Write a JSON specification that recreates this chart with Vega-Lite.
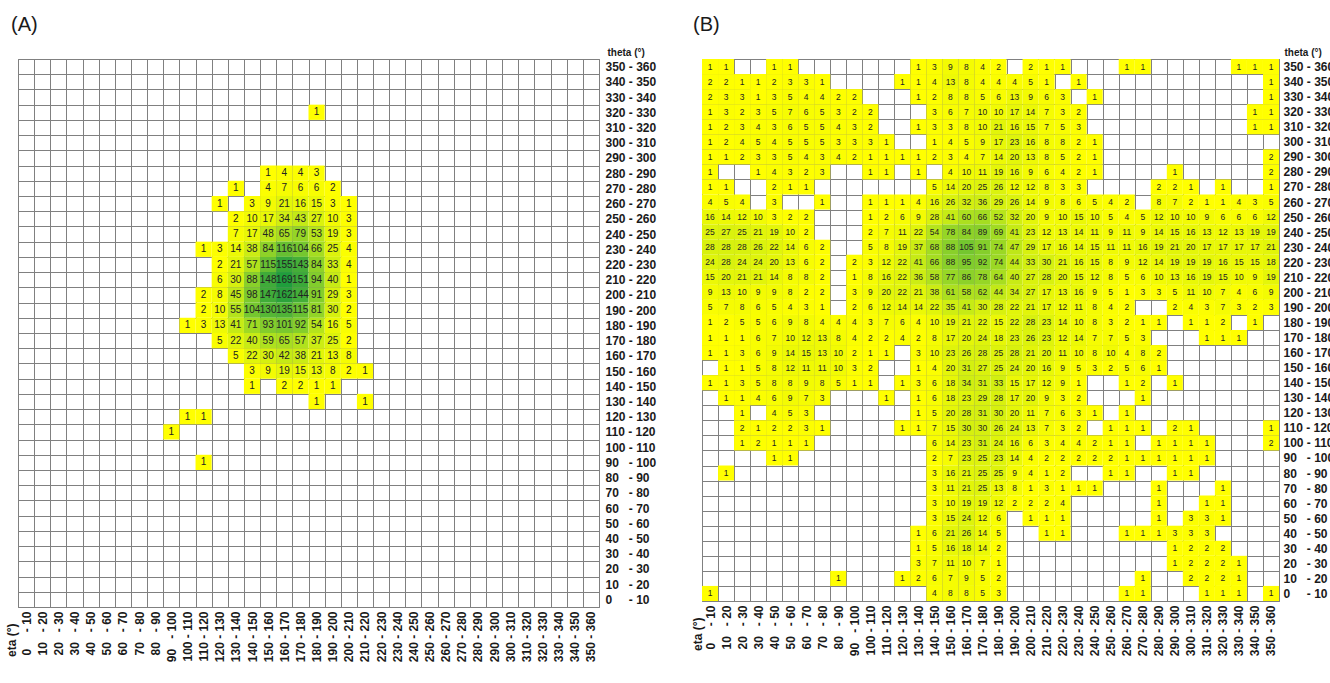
{
  "$schema": "https://vega.github.io/schema/vega-lite/v6.json",
  "background": "white",
  "padding": {"left": 4, "top": 14, "right": 0, "bottom": 0},
  "bounds": "flush",
  "spacing": 103,
  "config": {
    "font": "Liberation Sans",
    "view": {"stroke": "#808080", "strokeWidth": 1},
    "axis": {
      "grid": true, "tickBand": "extent", "gridColor": "#808080", "gridWidth": 1, "gridOpacity": 1,
      "ticks": false, "domain": false, "zindex": 1,
      "labelFont": "Liberation Sans", "labelFontWeight": "bold", "labelFontSize": 12, "labelColor": "#1a1a1a",
      "titleFont": "Liberation Sans", "titleFontWeight": "bold", "titleColor": "#1a1a1a"
    },
    "title": {"font": "Liberation Sans", "fontSize": 20, "fontWeight": "normal", "color": "#1a1a1a", "anchor": "start", "frame": "group", "baseline": "alphabetic"}
  },
  "datasets": {
    "A": [
      {"eta":180,"theta":320,"n":1},
      {"eta":150,"theta":280,"n":1},{"eta":160,"theta":280,"n":4},{"eta":170,"theta":280,"n":4},{"eta":180,"theta":280,"n":3},
      {"eta":130,"theta":270,"n":1},{"eta":150,"theta":270,"n":4},{"eta":160,"theta":270,"n":7},{"eta":170,"theta":270,"n":6},{"eta":180,"theta":270,"n":6},{"eta":190,"theta":270,"n":2},
      {"eta":120,"theta":260,"n":1},{"eta":140,"theta":260,"n":3},{"eta":150,"theta":260,"n":9},{"eta":160,"theta":260,"n":21},{"eta":170,"theta":260,"n":16},{"eta":180,"theta":260,"n":15},{"eta":190,"theta":260,"n":3},{"eta":200,"theta":260,"n":1},
      {"eta":130,"theta":250,"n":2},{"eta":140,"theta":250,"n":10},{"eta":150,"theta":250,"n":17},{"eta":160,"theta":250,"n":34},{"eta":170,"theta":250,"n":43},{"eta":180,"theta":250,"n":27},{"eta":190,"theta":250,"n":10},{"eta":200,"theta":250,"n":3},
      {"eta":130,"theta":240,"n":7},{"eta":140,"theta":240,"n":17},{"eta":150,"theta":240,"n":48},{"eta":160,"theta":240,"n":65},{"eta":170,"theta":240,"n":79},{"eta":180,"theta":240,"n":53},{"eta":190,"theta":240,"n":19},{"eta":200,"theta":240,"n":3},
      {"eta":110,"theta":230,"n":1},{"eta":120,"theta":230,"n":3},{"eta":130,"theta":230,"n":14},{"eta":140,"theta":230,"n":38},{"eta":150,"theta":230,"n":84},{"eta":160,"theta":230,"n":116},{"eta":170,"theta":230,"n":104},{"eta":180,"theta":230,"n":66},{"eta":190,"theta":230,"n":25},{"eta":200,"theta":230,"n":4},
      {"eta":120,"theta":220,"n":2},{"eta":130,"theta":220,"n":21},{"eta":140,"theta":220,"n":57},{"eta":150,"theta":220,"n":115},{"eta":160,"theta":220,"n":155},{"eta":170,"theta":220,"n":143},{"eta":180,"theta":220,"n":84},{"eta":190,"theta":220,"n":33},{"eta":200,"theta":220,"n":4},
      {"eta":120,"theta":210,"n":6},{"eta":130,"theta":210,"n":30},{"eta":140,"theta":210,"n":88},{"eta":150,"theta":210,"n":148},{"eta":160,"theta":210,"n":169},{"eta":170,"theta":210,"n":151},{"eta":180,"theta":210,"n":94},{"eta":190,"theta":210,"n":40},{"eta":200,"theta":210,"n":1},
      {"eta":110,"theta":200,"n":2},{"eta":120,"theta":200,"n":8},{"eta":130,"theta":200,"n":45},{"eta":140,"theta":200,"n":98},{"eta":150,"theta":200,"n":147},{"eta":160,"theta":200,"n":162},{"eta":170,"theta":200,"n":144},{"eta":180,"theta":200,"n":91},{"eta":190,"theta":200,"n":29},{"eta":200,"theta":200,"n":3},
      {"eta":110,"theta":190,"n":2},{"eta":120,"theta":190,"n":10},{"eta":130,"theta":190,"n":55},{"eta":140,"theta":190,"n":104},{"eta":150,"theta":190,"n":130},{"eta":160,"theta":190,"n":135},{"eta":170,"theta":190,"n":115},{"eta":180,"theta":190,"n":81},{"eta":190,"theta":190,"n":30},{"eta":200,"theta":190,"n":2},
      {"eta":100,"theta":180,"n":1},{"eta":110,"theta":180,"n":3},{"eta":120,"theta":180,"n":13},{"eta":130,"theta":180,"n":41},{"eta":140,"theta":180,"n":71},{"eta":150,"theta":180,"n":93},{"eta":160,"theta":180,"n":101},{"eta":170,"theta":180,"n":92},{"eta":180,"theta":180,"n":54},{"eta":190,"theta":180,"n":16},{"eta":200,"theta":180,"n":5},
      {"eta":120,"theta":170,"n":5},{"eta":130,"theta":170,"n":22},{"eta":140,"theta":170,"n":40},{"eta":150,"theta":170,"n":59},{"eta":160,"theta":170,"n":65},{"eta":170,"theta":170,"n":57},{"eta":180,"theta":170,"n":37},{"eta":190,"theta":170,"n":25},{"eta":200,"theta":170,"n":2},
      {"eta":130,"theta":160,"n":5},{"eta":140,"theta":160,"n":22},{"eta":150,"theta":160,"n":30},{"eta":160,"theta":160,"n":42},{"eta":170,"theta":160,"n":38},{"eta":180,"theta":160,"n":21},{"eta":190,"theta":160,"n":13},{"eta":200,"theta":160,"n":8},
      {"eta":140,"theta":150,"n":3},{"eta":150,"theta":150,"n":9},{"eta":160,"theta":150,"n":19},{"eta":170,"theta":150,"n":15},{"eta":180,"theta":150,"n":13},{"eta":190,"theta":150,"n":8},{"eta":200,"theta":150,"n":2},{"eta":210,"theta":150,"n":1},
      {"eta":140,"theta":140,"n":1},{"eta":160,"theta":140,"n":2},{"eta":170,"theta":140,"n":2},{"eta":180,"theta":140,"n":1},{"eta":190,"theta":140,"n":1},
      {"eta":180,"theta":130,"n":1},{"eta":210,"theta":130,"n":1},
      {"eta":100,"theta":120,"n":1},{"eta":110,"theta":120,"n":1},
      {"eta":90,"theta":110,"n":1},
      {"eta":110,"theta":90,"n":1}
    ],
    "B": [
      {"eta":0,"theta":350,"n":1},{"eta":10,"theta":350,"n":1},{"eta":40,"theta":350,"n":1},{"eta":50,"theta":350,"n":1},{"eta":130,"theta":350,"n":1},{"eta":140,"theta":350,"n":3},{"eta":150,"theta":350,"n":9},{"eta":160,"theta":350,"n":8},{"eta":170,"theta":350,"n":4},{"eta":180,"theta":350,"n":2},{"eta":200,"theta":350,"n":2},{"eta":210,"theta":350,"n":1},{"eta":220,"theta":350,"n":1},{"eta":260,"theta":350,"n":1},{"eta":270,"theta":350,"n":1},{"eta":330,"theta":350,"n":1},{"eta":340,"theta":350,"n":1},{"eta":350,"theta":350,"n":1},
      {"eta":0,"theta":340,"n":2},{"eta":10,"theta":340,"n":2},{"eta":20,"theta":340,"n":1},{"eta":30,"theta":340,"n":1},{"eta":40,"theta":340,"n":2},{"eta":50,"theta":340,"n":3},{"eta":60,"theta":340,"n":3},{"eta":70,"theta":340,"n":1},{"eta":120,"theta":340,"n":1},{"eta":130,"theta":340,"n":1},{"eta":140,"theta":340,"n":4},{"eta":150,"theta":340,"n":13},{"eta":160,"theta":340,"n":8},{"eta":170,"theta":340,"n":4},{"eta":180,"theta":340,"n":4},{"eta":190,"theta":340,"n":4},{"eta":200,"theta":340,"n":5},{"eta":210,"theta":340,"n":1},{"eta":230,"theta":340,"n":1},{"eta":350,"theta":340,"n":1},
      {"eta":0,"theta":330,"n":2},{"eta":10,"theta":330,"n":3},{"eta":20,"theta":330,"n":3},{"eta":30,"theta":330,"n":1},{"eta":40,"theta":330,"n":3},{"eta":50,"theta":330,"n":5},{"eta":60,"theta":330,"n":4},{"eta":70,"theta":330,"n":4},{"eta":80,"theta":330,"n":2},{"eta":90,"theta":330,"n":2},{"eta":130,"theta":330,"n":1},{"eta":140,"theta":330,"n":2},{"eta":150,"theta":330,"n":8},{"eta":160,"theta":330,"n":8},{"eta":170,"theta":330,"n":5},{"eta":180,"theta":330,"n":6},{"eta":190,"theta":330,"n":13},{"eta":200,"theta":330,"n":9},{"eta":210,"theta":330,"n":6},{"eta":220,"theta":330,"n":3},{"eta":240,"theta":330,"n":1},{"eta":350,"theta":330,"n":1},
      {"eta":0,"theta":320,"n":1},{"eta":10,"theta":320,"n":3},{"eta":20,"theta":320,"n":2},{"eta":30,"theta":320,"n":3},{"eta":40,"theta":320,"n":5},{"eta":50,"theta":320,"n":7},{"eta":60,"theta":320,"n":6},{"eta":70,"theta":320,"n":5},{"eta":80,"theta":320,"n":3},{"eta":90,"theta":320,"n":2},{"eta":100,"theta":320,"n":2},{"eta":140,"theta":320,"n":3},{"eta":150,"theta":320,"n":6},{"eta":160,"theta":320,"n":7},{"eta":170,"theta":320,"n":10},{"eta":180,"theta":320,"n":10},{"eta":190,"theta":320,"n":17},{"eta":200,"theta":320,"n":14},{"eta":210,"theta":320,"n":7},{"eta":220,"theta":320,"n":3},{"eta":230,"theta":320,"n":2},{"eta":340,"theta":320,"n":1},{"eta":350,"theta":320,"n":1},
      {"eta":0,"theta":310,"n":1},{"eta":10,"theta":310,"n":2},{"eta":20,"theta":310,"n":3},{"eta":30,"theta":310,"n":4},{"eta":40,"theta":310,"n":3},{"eta":50,"theta":310,"n":6},{"eta":60,"theta":310,"n":5},{"eta":70,"theta":310,"n":5},{"eta":80,"theta":310,"n":4},{"eta":90,"theta":310,"n":3},{"eta":100,"theta":310,"n":2},{"eta":130,"theta":310,"n":1},{"eta":140,"theta":310,"n":3},{"eta":150,"theta":310,"n":3},{"eta":160,"theta":310,"n":8},{"eta":170,"theta":310,"n":10},{"eta":180,"theta":310,"n":21},{"eta":190,"theta":310,"n":16},{"eta":200,"theta":310,"n":15},{"eta":210,"theta":310,"n":7},{"eta":220,"theta":310,"n":5},{"eta":230,"theta":310,"n":3},{"eta":340,"theta":310,"n":1},{"eta":350,"theta":310,"n":1},
      {"eta":0,"theta":300,"n":1},{"eta":10,"theta":300,"n":2},{"eta":20,"theta":300,"n":4},{"eta":30,"theta":300,"n":5},{"eta":40,"theta":300,"n":4},{"eta":50,"theta":300,"n":5},{"eta":60,"theta":300,"n":5},{"eta":70,"theta":300,"n":5},{"eta":80,"theta":300,"n":3},{"eta":90,"theta":300,"n":3},{"eta":100,"theta":300,"n":3},{"eta":110,"theta":300,"n":1},{"eta":140,"theta":300,"n":1},{"eta":150,"theta":300,"n":4},{"eta":160,"theta":300,"n":5},{"eta":170,"theta":300,"n":9},{"eta":180,"theta":300,"n":17},{"eta":190,"theta":300,"n":23},{"eta":200,"theta":300,"n":16},{"eta":210,"theta":300,"n":8},{"eta":220,"theta":300,"n":8},{"eta":230,"theta":300,"n":2},{"eta":240,"theta":300,"n":1},
      {"eta":0,"theta":290,"n":1},{"eta":10,"theta":290,"n":1},{"eta":20,"theta":290,"n":2},{"eta":30,"theta":290,"n":3},{"eta":40,"theta":290,"n":3},{"eta":50,"theta":290,"n":5},{"eta":60,"theta":290,"n":4},{"eta":70,"theta":290,"n":3},{"eta":80,"theta":290,"n":4},{"eta":90,"theta":290,"n":2},{"eta":100,"theta":290,"n":1},{"eta":110,"theta":290,"n":1},{"eta":120,"theta":290,"n":1},{"eta":130,"theta":290,"n":1},{"eta":140,"theta":290,"n":2},{"eta":150,"theta":290,"n":3},{"eta":160,"theta":290,"n":4},{"eta":170,"theta":290,"n":7},{"eta":180,"theta":290,"n":14},{"eta":190,"theta":290,"n":20},{"eta":200,"theta":290,"n":13},{"eta":210,"theta":290,"n":8},{"eta":220,"theta":290,"n":5},{"eta":230,"theta":290,"n":2},{"eta":240,"theta":290,"n":1},{"eta":350,"theta":290,"n":2},
      {"eta":0,"theta":280,"n":1},{"eta":30,"theta":280,"n":1},{"eta":40,"theta":280,"n":4},{"eta":50,"theta":280,"n":3},{"eta":60,"theta":280,"n":2},{"eta":70,"theta":280,"n":3},{"eta":100,"theta":280,"n":1},{"eta":110,"theta":280,"n":1},{"eta":130,"theta":280,"n":1},{"eta":150,"theta":280,"n":4},{"eta":160,"theta":280,"n":10},{"eta":170,"theta":280,"n":11},{"eta":180,"theta":280,"n":19},{"eta":190,"theta":280,"n":16},{"eta":200,"theta":280,"n":9},{"eta":210,"theta":280,"n":6},{"eta":220,"theta":280,"n":4},{"eta":230,"theta":280,"n":2},{"eta":240,"theta":280,"n":1},{"eta":290,"theta":280,"n":1},{"eta":350,"theta":280,"n":2},
      {"eta":0,"theta":270,"n":1},{"eta":10,"theta":270,"n":1},{"eta":40,"theta":270,"n":2},{"eta":50,"theta":270,"n":1},{"eta":60,"theta":270,"n":1},{"eta":140,"theta":270,"n":5},{"eta":150,"theta":270,"n":14},{"eta":160,"theta":270,"n":20},{"eta":170,"theta":270,"n":25},{"eta":180,"theta":270,"n":26},{"eta":190,"theta":270,"n":12},{"eta":200,"theta":270,"n":12},{"eta":210,"theta":270,"n":8},{"eta":220,"theta":270,"n":3},{"eta":230,"theta":270,"n":3},{"eta":280,"theta":270,"n":2},{"eta":290,"theta":270,"n":2},{"eta":300,"theta":270,"n":1},{"eta":320,"theta":270,"n":1},{"eta":350,"theta":270,"n":1},
      {"eta":0,"theta":260,"n":4},{"eta":10,"theta":260,"n":5},{"eta":20,"theta":260,"n":4},{"eta":40,"theta":260,"n":3},{"eta":70,"theta":260,"n":1},{"eta":100,"theta":260,"n":1},{"eta":110,"theta":260,"n":1},{"eta":120,"theta":260,"n":1},{"eta":130,"theta":260,"n":4},{"eta":140,"theta":260,"n":16},{"eta":150,"theta":260,"n":26},{"eta":160,"theta":260,"n":32},{"eta":170,"theta":260,"n":36},{"eta":180,"theta":260,"n":29},{"eta":190,"theta":260,"n":26},{"eta":200,"theta":260,"n":14},{"eta":210,"theta":260,"n":9},{"eta":220,"theta":260,"n":8},{"eta":230,"theta":260,"n":6},{"eta":240,"theta":260,"n":5},{"eta":250,"theta":260,"n":4},{"eta":260,"theta":260,"n":2},{"eta":280,"theta":260,"n":8},{"eta":290,"theta":260,"n":7},{"eta":300,"theta":260,"n":2},{"eta":310,"theta":260,"n":1},{"eta":320,"theta":260,"n":1},{"eta":330,"theta":260,"n":4},{"eta":340,"theta":260,"n":3},{"eta":350,"theta":260,"n":5},
      {"eta":0,"theta":250,"n":16},{"eta":10,"theta":250,"n":14},{"eta":20,"theta":250,"n":12},{"eta":30,"theta":250,"n":10},{"eta":40,"theta":250,"n":3},{"eta":50,"theta":250,"n":2},{"eta":60,"theta":250,"n":2},{"eta":100,"theta":250,"n":1},{"eta":110,"theta":250,"n":2},{"eta":120,"theta":250,"n":6},{"eta":130,"theta":250,"n":9},{"eta":140,"theta":250,"n":28},{"eta":150,"theta":250,"n":41},{"eta":160,"theta":250,"n":60},{"eta":170,"theta":250,"n":66},{"eta":180,"theta":250,"n":52},{"eta":190,"theta":250,"n":32},{"eta":200,"theta":250,"n":20},{"eta":210,"theta":250,"n":9},{"eta":220,"theta":250,"n":10},{"eta":230,"theta":250,"n":15},{"eta":240,"theta":250,"n":10},{"eta":250,"theta":250,"n":5},{"eta":260,"theta":250,"n":4},{"eta":270,"theta":250,"n":5},{"eta":280,"theta":250,"n":12},{"eta":290,"theta":250,"n":10},{"eta":300,"theta":250,"n":10},{"eta":310,"theta":250,"n":9},{"eta":320,"theta":250,"n":6},{"eta":330,"theta":250,"n":6},{"eta":340,"theta":250,"n":6},{"eta":350,"theta":250,"n":12},
      {"eta":0,"theta":240,"n":25},{"eta":10,"theta":240,"n":27},{"eta":20,"theta":240,"n":25},{"eta":30,"theta":240,"n":21},{"eta":40,"theta":240,"n":19},{"eta":50,"theta":240,"n":10},{"eta":60,"theta":240,"n":2},{"eta":100,"theta":240,"n":2},{"eta":110,"theta":240,"n":7},{"eta":120,"theta":240,"n":11},{"eta":130,"theta":240,"n":22},{"eta":140,"theta":240,"n":54},{"eta":150,"theta":240,"n":78},{"eta":160,"theta":240,"n":84},{"eta":170,"theta":240,"n":89},{"eta":180,"theta":240,"n":69},{"eta":190,"theta":240,"n":41},{"eta":200,"theta":240,"n":23},{"eta":210,"theta":240,"n":12},{"eta":220,"theta":240,"n":13},{"eta":230,"theta":240,"n":14},{"eta":240,"theta":240,"n":11},{"eta":250,"theta":240,"n":9},{"eta":260,"theta":240,"n":11},{"eta":270,"theta":240,"n":9},{"eta":280,"theta":240,"n":14},{"eta":290,"theta":240,"n":15},{"eta":300,"theta":240,"n":16},{"eta":310,"theta":240,"n":13},{"eta":320,"theta":240,"n":12},{"eta":330,"theta":240,"n":13},{"eta":340,"theta":240,"n":19},{"eta":350,"theta":240,"n":19},
      {"eta":0,"theta":230,"n":28},{"eta":10,"theta":230,"n":28},{"eta":20,"theta":230,"n":28},{"eta":30,"theta":230,"n":26},{"eta":40,"theta":230,"n":22},{"eta":50,"theta":230,"n":14},{"eta":60,"theta":230,"n":6},{"eta":70,"theta":230,"n":2},{"eta":100,"theta":230,"n":5},{"eta":110,"theta":230,"n":8},{"eta":120,"theta":230,"n":19},{"eta":130,"theta":230,"n":37},{"eta":140,"theta":230,"n":68},{"eta":150,"theta":230,"n":88},{"eta":160,"theta":230,"n":105},{"eta":170,"theta":230,"n":91},{"eta":180,"theta":230,"n":74},{"eta":190,"theta":230,"n":47},{"eta":200,"theta":230,"n":29},{"eta":210,"theta":230,"n":17},{"eta":220,"theta":230,"n":16},{"eta":230,"theta":230,"n":14},{"eta":240,"theta":230,"n":15},{"eta":250,"theta":230,"n":11},{"eta":260,"theta":230,"n":11},{"eta":270,"theta":230,"n":16},{"eta":280,"theta":230,"n":19},{"eta":290,"theta":230,"n":21},{"eta":300,"theta":230,"n":20},{"eta":310,"theta":230,"n":17},{"eta":320,"theta":230,"n":17},{"eta":330,"theta":230,"n":17},{"eta":340,"theta":230,"n":17},{"eta":350,"theta":230,"n":21},
      {"eta":0,"theta":220,"n":24},{"eta":10,"theta":220,"n":28},{"eta":20,"theta":220,"n":24},{"eta":30,"theta":220,"n":24},{"eta":40,"theta":220,"n":20},{"eta":50,"theta":220,"n":13},{"eta":60,"theta":220,"n":6},{"eta":70,"theta":220,"n":2},{"eta":90,"theta":220,"n":2},{"eta":100,"theta":220,"n":3},{"eta":110,"theta":220,"n":12},{"eta":120,"theta":220,"n":22},{"eta":130,"theta":220,"n":41},{"eta":140,"theta":220,"n":66},{"eta":150,"theta":220,"n":88},{"eta":160,"theta":220,"n":95},{"eta":170,"theta":220,"n":92},{"eta":180,"theta":220,"n":74},{"eta":190,"theta":220,"n":44},{"eta":200,"theta":220,"n":33},{"eta":210,"theta":220,"n":30},{"eta":220,"theta":220,"n":21},{"eta":230,"theta":220,"n":16},{"eta":240,"theta":220,"n":15},{"eta":250,"theta":220,"n":8},{"eta":260,"theta":220,"n":9},{"eta":270,"theta":220,"n":12},{"eta":280,"theta":220,"n":14},{"eta":290,"theta":220,"n":19},{"eta":300,"theta":220,"n":19},{"eta":310,"theta":220,"n":19},{"eta":320,"theta":220,"n":16},{"eta":330,"theta":220,"n":15},{"eta":340,"theta":220,"n":15},{"eta":350,"theta":220,"n":18},
      {"eta":0,"theta":210,"n":15},{"eta":10,"theta":210,"n":20},{"eta":20,"theta":210,"n":21},{"eta":30,"theta":210,"n":21},{"eta":40,"theta":210,"n":14},{"eta":50,"theta":210,"n":8},{"eta":60,"theta":210,"n":8},{"eta":70,"theta":210,"n":2},{"eta":90,"theta":210,"n":1},{"eta":100,"theta":210,"n":8},{"eta":110,"theta":210,"n":16},{"eta":120,"theta":210,"n":22},{"eta":130,"theta":210,"n":36},{"eta":140,"theta":210,"n":58},{"eta":150,"theta":210,"n":77},{"eta":160,"theta":210,"n":86},{"eta":170,"theta":210,"n":78},{"eta":180,"theta":210,"n":64},{"eta":190,"theta":210,"n":40},{"eta":200,"theta":210,"n":27},{"eta":210,"theta":210,"n":28},{"eta":220,"theta":210,"n":20},{"eta":230,"theta":210,"n":15},{"eta":240,"theta":210,"n":12},{"eta":250,"theta":210,"n":8},{"eta":260,"theta":210,"n":5},{"eta":270,"theta":210,"n":6},{"eta":280,"theta":210,"n":10},{"eta":290,"theta":210,"n":13},{"eta":300,"theta":210,"n":16},{"eta":310,"theta":210,"n":19},{"eta":320,"theta":210,"n":15},{"eta":330,"theta":210,"n":10},{"eta":340,"theta":210,"n":9},{"eta":350,"theta":210,"n":19},
      {"eta":0,"theta":200,"n":9},{"eta":10,"theta":200,"n":13},{"eta":20,"theta":200,"n":10},{"eta":30,"theta":200,"n":9},{"eta":40,"theta":200,"n":9},{"eta":50,"theta":200,"n":8},{"eta":60,"theta":200,"n":2},{"eta":70,"theta":200,"n":2},{"eta":90,"theta":200,"n":3},{"eta":100,"theta":200,"n":9},{"eta":110,"theta":200,"n":20},{"eta":120,"theta":200,"n":22},{"eta":130,"theta":200,"n":21},{"eta":140,"theta":200,"n":38},{"eta":150,"theta":200,"n":61},{"eta":160,"theta":200,"n":58},{"eta":170,"theta":200,"n":62},{"eta":180,"theta":200,"n":44},{"eta":190,"theta":200,"n":34},{"eta":200,"theta":200,"n":27},{"eta":210,"theta":200,"n":17},{"eta":220,"theta":200,"n":13},{"eta":230,"theta":200,"n":16},{"eta":240,"theta":200,"n":9},{"eta":250,"theta":200,"n":5},{"eta":260,"theta":200,"n":1},{"eta":270,"theta":200,"n":3},{"eta":280,"theta":200,"n":3},{"eta":290,"theta":200,"n":5},{"eta":300,"theta":200,"n":11},{"eta":310,"theta":200,"n":10},{"eta":320,"theta":200,"n":7},{"eta":330,"theta":200,"n":4},{"eta":340,"theta":200,"n":6},{"eta":350,"theta":200,"n":9},
      {"eta":0,"theta":190,"n":5},{"eta":10,"theta":190,"n":7},{"eta":20,"theta":190,"n":8},{"eta":30,"theta":190,"n":6},{"eta":40,"theta":190,"n":5},{"eta":50,"theta":190,"n":4},{"eta":60,"theta":190,"n":3},{"eta":70,"theta":190,"n":1},{"eta":90,"theta":190,"n":2},{"eta":100,"theta":190,"n":6},{"eta":110,"theta":190,"n":12},{"eta":120,"theta":190,"n":14},{"eta":130,"theta":190,"n":14},{"eta":140,"theta":190,"n":22},{"eta":150,"theta":190,"n":35},{"eta":160,"theta":190,"n":41},{"eta":170,"theta":190,"n":30},{"eta":180,"theta":190,"n":28},{"eta":190,"theta":190,"n":22},{"eta":200,"theta":190,"n":21},{"eta":210,"theta":190,"n":17},{"eta":220,"theta":190,"n":12},{"eta":230,"theta":190,"n":11},{"eta":240,"theta":190,"n":8},{"eta":250,"theta":190,"n":4},{"eta":260,"theta":190,"n":2},{"eta":290,"theta":190,"n":2},{"eta":300,"theta":190,"n":4},{"eta":310,"theta":190,"n":3},{"eta":320,"theta":190,"n":7},{"eta":330,"theta":190,"n":3},{"eta":340,"theta":190,"n":2},{"eta":350,"theta":190,"n":3},
      {"eta":0,"theta":180,"n":1},{"eta":10,"theta":180,"n":2},{"eta":20,"theta":180,"n":5},{"eta":30,"theta":180,"n":5},{"eta":40,"theta":180,"n":6},{"eta":50,"theta":180,"n":9},{"eta":60,"theta":180,"n":8},{"eta":70,"theta":180,"n":4},{"eta":80,"theta":180,"n":4},{"eta":90,"theta":180,"n":4},{"eta":100,"theta":180,"n":3},{"eta":110,"theta":180,"n":7},{"eta":120,"theta":180,"n":6},{"eta":130,"theta":180,"n":4},{"eta":140,"theta":180,"n":10},{"eta":150,"theta":180,"n":19},{"eta":160,"theta":180,"n":21},{"eta":170,"theta":180,"n":22},{"eta":180,"theta":180,"n":15},{"eta":190,"theta":180,"n":22},{"eta":200,"theta":180,"n":28},{"eta":210,"theta":180,"n":23},{"eta":220,"theta":180,"n":14},{"eta":230,"theta":180,"n":10},{"eta":240,"theta":180,"n":8},{"eta":250,"theta":180,"n":3},{"eta":260,"theta":180,"n":2},{"eta":270,"theta":180,"n":1},{"eta":280,"theta":180,"n":1},{"eta":300,"theta":180,"n":1},{"eta":310,"theta":180,"n":1},{"eta":320,"theta":180,"n":2},{"eta":340,"theta":180,"n":1},
      {"eta":0,"theta":170,"n":1},{"eta":10,"theta":170,"n":1},{"eta":20,"theta":170,"n":1},{"eta":30,"theta":170,"n":6},{"eta":40,"theta":170,"n":7},{"eta":50,"theta":170,"n":10},{"eta":60,"theta":170,"n":12},{"eta":70,"theta":170,"n":13},{"eta":80,"theta":170,"n":8},{"eta":90,"theta":170,"n":4},{"eta":100,"theta":170,"n":2},{"eta":110,"theta":170,"n":2},{"eta":120,"theta":170,"n":4},{"eta":130,"theta":170,"n":2},{"eta":140,"theta":170,"n":8},{"eta":150,"theta":170,"n":17},{"eta":160,"theta":170,"n":20},{"eta":170,"theta":170,"n":24},{"eta":180,"theta":170,"n":18},{"eta":190,"theta":170,"n":23},{"eta":200,"theta":170,"n":26},{"eta":210,"theta":170,"n":23},{"eta":220,"theta":170,"n":12},{"eta":230,"theta":170,"n":14},{"eta":240,"theta":170,"n":7},{"eta":250,"theta":170,"n":7},{"eta":260,"theta":170,"n":5},{"eta":270,"theta":170,"n":3},{"eta":310,"theta":170,"n":1},{"eta":320,"theta":170,"n":1},{"eta":330,"theta":170,"n":1},
      {"eta":0,"theta":160,"n":1},{"eta":10,"theta":160,"n":1},{"eta":20,"theta":160,"n":3},{"eta":30,"theta":160,"n":6},{"eta":40,"theta":160,"n":9},{"eta":50,"theta":160,"n":14},{"eta":60,"theta":160,"n":15},{"eta":70,"theta":160,"n":13},{"eta":80,"theta":160,"n":10},{"eta":90,"theta":160,"n":2},{"eta":100,"theta":160,"n":1},{"eta":110,"theta":160,"n":1},{"eta":130,"theta":160,"n":3},{"eta":140,"theta":160,"n":10},{"eta":150,"theta":160,"n":23},{"eta":160,"theta":160,"n":26},{"eta":170,"theta":160,"n":28},{"eta":180,"theta":160,"n":25},{"eta":190,"theta":160,"n":28},{"eta":200,"theta":160,"n":21},{"eta":210,"theta":160,"n":20},{"eta":220,"theta":160,"n":11},{"eta":230,"theta":160,"n":10},{"eta":240,"theta":160,"n":8},{"eta":250,"theta":160,"n":10},{"eta":260,"theta":160,"n":4},{"eta":270,"theta":160,"n":8},{"eta":280,"theta":160,"n":2},
      {"eta":10,"theta":150,"n":1},{"eta":20,"theta":150,"n":1},{"eta":30,"theta":150,"n":5},{"eta":40,"theta":150,"n":8},{"eta":50,"theta":150,"n":12},{"eta":60,"theta":150,"n":11},{"eta":70,"theta":150,"n":11},{"eta":80,"theta":150,"n":10},{"eta":90,"theta":150,"n":3},{"eta":100,"theta":150,"n":2},{"eta":130,"theta":150,"n":1},{"eta":140,"theta":150,"n":4},{"eta":150,"theta":150,"n":20},{"eta":160,"theta":150,"n":31},{"eta":170,"theta":150,"n":27},{"eta":180,"theta":150,"n":25},{"eta":190,"theta":150,"n":24},{"eta":200,"theta":150,"n":20},{"eta":210,"theta":150,"n":16},{"eta":220,"theta":150,"n":9},{"eta":230,"theta":150,"n":5},{"eta":240,"theta":150,"n":3},{"eta":250,"theta":150,"n":2},{"eta":260,"theta":150,"n":5},{"eta":270,"theta":150,"n":6},{"eta":280,"theta":150,"n":1},
      {"eta":0,"theta":140,"n":1},{"eta":10,"theta":140,"n":1},{"eta":20,"theta":140,"n":3},{"eta":30,"theta":140,"n":5},{"eta":40,"theta":140,"n":8},{"eta":50,"theta":140,"n":8},{"eta":60,"theta":140,"n":9},{"eta":70,"theta":140,"n":8},{"eta":80,"theta":140,"n":5},{"eta":90,"theta":140,"n":1},{"eta":100,"theta":140,"n":1},{"eta":120,"theta":140,"n":1},{"eta":130,"theta":140,"n":3},{"eta":140,"theta":140,"n":6},{"eta":150,"theta":140,"n":18},{"eta":160,"theta":140,"n":34},{"eta":170,"theta":140,"n":31},{"eta":180,"theta":140,"n":33},{"eta":190,"theta":140,"n":15},{"eta":200,"theta":140,"n":17},{"eta":210,"theta":140,"n":12},{"eta":220,"theta":140,"n":9},{"eta":230,"theta":140,"n":1},{"eta":260,"theta":140,"n":1},{"eta":270,"theta":140,"n":2},{"eta":290,"theta":140,"n":1},
      {"eta":10,"theta":130,"n":1},{"eta":20,"theta":130,"n":1},{"eta":30,"theta":130,"n":4},{"eta":40,"theta":130,"n":6},{"eta":50,"theta":130,"n":9},{"eta":60,"theta":130,"n":7},{"eta":70,"theta":130,"n":3},{"eta":110,"theta":130,"n":1},{"eta":130,"theta":130,"n":1},{"eta":140,"theta":130,"n":6},{"eta":150,"theta":130,"n":18},{"eta":160,"theta":130,"n":23},{"eta":170,"theta":130,"n":29},{"eta":180,"theta":130,"n":28},{"eta":190,"theta":130,"n":17},{"eta":200,"theta":130,"n":20},{"eta":210,"theta":130,"n":9},{"eta":220,"theta":130,"n":3},{"eta":230,"theta":130,"n":2},{"eta":270,"theta":130,"n":1},
      {"eta":20,"theta":120,"n":1},{"eta":40,"theta":120,"n":4},{"eta":50,"theta":120,"n":5},{"eta":60,"theta":120,"n":3},{"eta":130,"theta":120,"n":1},{"eta":140,"theta":120,"n":5},{"eta":150,"theta":120,"n":20},{"eta":160,"theta":120,"n":28},{"eta":170,"theta":120,"n":31},{"eta":180,"theta":120,"n":30},{"eta":190,"theta":120,"n":20},{"eta":200,"theta":120,"n":11},{"eta":210,"theta":120,"n":7},{"eta":220,"theta":120,"n":6},{"eta":230,"theta":120,"n":3},{"eta":240,"theta":120,"n":1},{"eta":260,"theta":120,"n":1},
      {"eta":20,"theta":110,"n":2},{"eta":30,"theta":110,"n":1},{"eta":40,"theta":110,"n":2},{"eta":50,"theta":110,"n":2},{"eta":60,"theta":110,"n":3},{"eta":70,"theta":110,"n":1},{"eta":120,"theta":110,"n":1},{"eta":130,"theta":110,"n":1},{"eta":140,"theta":110,"n":7},{"eta":150,"theta":110,"n":15},{"eta":160,"theta":110,"n":30},{"eta":170,"theta":110,"n":30},{"eta":180,"theta":110,"n":26},{"eta":190,"theta":110,"n":24},{"eta":200,"theta":110,"n":13},{"eta":210,"theta":110,"n":7},{"eta":220,"theta":110,"n":3},{"eta":230,"theta":110,"n":2},{"eta":250,"theta":110,"n":1},{"eta":260,"theta":110,"n":1},{"eta":270,"theta":110,"n":1},{"eta":290,"theta":110,"n":2},{"eta":300,"theta":110,"n":1},{"eta":350,"theta":110,"n":1},
      {"eta":20,"theta":100,"n":1},{"eta":30,"theta":100,"n":2},{"eta":40,"theta":100,"n":1},{"eta":50,"theta":100,"n":1},{"eta":60,"theta":100,"n":1},{"eta":140,"theta":100,"n":6},{"eta":150,"theta":100,"n":14},{"eta":160,"theta":100,"n":23},{"eta":170,"theta":100,"n":31},{"eta":180,"theta":100,"n":24},{"eta":190,"theta":100,"n":16},{"eta":200,"theta":100,"n":6},{"eta":210,"theta":100,"n":3},{"eta":220,"theta":100,"n":4},{"eta":230,"theta":100,"n":4},{"eta":240,"theta":100,"n":2},{"eta":250,"theta":100,"n":1},{"eta":260,"theta":100,"n":1},{"eta":280,"theta":100,"n":1},{"eta":290,"theta":100,"n":1},{"eta":300,"theta":100,"n":1},{"eta":310,"theta":100,"n":1},{"eta":350,"theta":100,"n":2},
      {"eta":40,"theta":90,"n":1},{"eta":50,"theta":90,"n":1},{"eta":140,"theta":90,"n":2},{"eta":150,"theta":90,"n":7},{"eta":160,"theta":90,"n":23},{"eta":170,"theta":90,"n":25},{"eta":180,"theta":90,"n":23},{"eta":190,"theta":90,"n":14},{"eta":200,"theta":90,"n":4},{"eta":210,"theta":90,"n":2},{"eta":220,"theta":90,"n":2},{"eta":230,"theta":90,"n":2},{"eta":240,"theta":90,"n":2},{"eta":250,"theta":90,"n":2},{"eta":260,"theta":90,"n":1},{"eta":270,"theta":90,"n":1},{"eta":280,"theta":90,"n":1},{"eta":290,"theta":90,"n":1},{"eta":300,"theta":90,"n":1},{"eta":310,"theta":90,"n":1},
      {"eta":10,"theta":80,"n":1},{"eta":140,"theta":80,"n":3},{"eta":150,"theta":80,"n":16},{"eta":160,"theta":80,"n":21},{"eta":170,"theta":80,"n":25},{"eta":180,"theta":80,"n":25},{"eta":190,"theta":80,"n":9},{"eta":200,"theta":80,"n":4},{"eta":210,"theta":80,"n":1},{"eta":220,"theta":80,"n":2},{"eta":250,"theta":80,"n":1},{"eta":260,"theta":80,"n":1},{"eta":290,"theta":80,"n":1},{"eta":300,"theta":80,"n":1},
      {"eta":140,"theta":70,"n":3},{"eta":150,"theta":70,"n":11},{"eta":160,"theta":70,"n":21},{"eta":170,"theta":70,"n":25},{"eta":180,"theta":70,"n":13},{"eta":190,"theta":70,"n":8},{"eta":200,"theta":70,"n":1},{"eta":210,"theta":70,"n":3},{"eta":220,"theta":70,"n":1},{"eta":230,"theta":70,"n":1},{"eta":240,"theta":70,"n":1},{"eta":280,"theta":70,"n":1},{"eta":320,"theta":70,"n":1},
      {"eta":140,"theta":60,"n":3},{"eta":150,"theta":60,"n":10},{"eta":160,"theta":60,"n":19},{"eta":170,"theta":60,"n":19},{"eta":180,"theta":60,"n":12},{"eta":190,"theta":60,"n":2},{"eta":200,"theta":60,"n":2},{"eta":210,"theta":60,"n":2},{"eta":220,"theta":60,"n":4},{"eta":280,"theta":60,"n":1},{"eta":310,"theta":60,"n":1},{"eta":320,"theta":60,"n":1},
      {"eta":140,"theta":50,"n":3},{"eta":150,"theta":50,"n":15},{"eta":160,"theta":50,"n":24},{"eta":170,"theta":50,"n":12},{"eta":180,"theta":50,"n":6},{"eta":200,"theta":50,"n":1},{"eta":210,"theta":50,"n":1},{"eta":220,"theta":50,"n":1},{"eta":280,"theta":50,"n":1},{"eta":300,"theta":50,"n":3},{"eta":310,"theta":50,"n":3},{"eta":320,"theta":50,"n":1},
      {"eta":130,"theta":40,"n":1},{"eta":140,"theta":40,"n":6},{"eta":150,"theta":40,"n":21},{"eta":160,"theta":40,"n":26},{"eta":170,"theta":40,"n":14},{"eta":180,"theta":40,"n":5},{"eta":210,"theta":40,"n":1},{"eta":220,"theta":40,"n":1},{"eta":260,"theta":40,"n":1},{"eta":270,"theta":40,"n":1},{"eta":280,"theta":40,"n":1},{"eta":290,"theta":40,"n":3},{"eta":300,"theta":40,"n":3},{"eta":310,"theta":40,"n":3},
      {"eta":130,"theta":30,"n":1},{"eta":140,"theta":30,"n":5},{"eta":150,"theta":30,"n":16},{"eta":160,"theta":30,"n":18},{"eta":170,"theta":30,"n":14},{"eta":180,"theta":30,"n":2},{"eta":290,"theta":30,"n":1},{"eta":300,"theta":30,"n":2},{"eta":310,"theta":30,"n":2},{"eta":320,"theta":30,"n":2},
      {"eta":130,"theta":20,"n":3},{"eta":140,"theta":20,"n":7},{"eta":150,"theta":20,"n":11},{"eta":160,"theta":20,"n":10},{"eta":170,"theta":20,"n":7},{"eta":180,"theta":20,"n":1},{"eta":290,"theta":20,"n":1},{"eta":300,"theta":20,"n":2},{"eta":310,"theta":20,"n":2},{"eta":320,"theta":20,"n":2},{"eta":330,"theta":20,"n":1},
      {"eta":80,"theta":10,"n":1},{"eta":120,"theta":10,"n":1},{"eta":130,"theta":10,"n":2},{"eta":140,"theta":10,"n":6},{"eta":150,"theta":10,"n":7},{"eta":160,"theta":10,"n":9},{"eta":170,"theta":10,"n":5},{"eta":180,"theta":10,"n":2},{"eta":270,"theta":10,"n":1},{"eta":300,"theta":10,"n":2},{"eta":310,"theta":10,"n":2},{"eta":320,"theta":10,"n":2},{"eta":330,"theta":10,"n":1},
      {"eta":0,"theta":0,"n":1},{"eta":140,"theta":0,"n":4},{"eta":150,"theta":0,"n":8},{"eta":160,"theta":0,"n":8},{"eta":170,"theta":0,"n":5},{"eta":180,"theta":0,"n":3},{"eta":260,"theta":0,"n":1},{"eta":270,"theta":0,"n":1},{"eta":310,"theta":0,"n":1},{"eta":320,"theta":0,"n":1},{"eta":330,"theta":0,"n":1},{"eta":350,"theta":0,"n":1}
    ]
  },
  "hconcat": [
    {
      "width": 581, "height": 548,
      "title": {"text": "(A)", "dx": -7, "offset": 12},
      "data": {"name": "A"},
      "encoding": {
        "x": {"field": "eta", "type": "ordinal",
          "scale": {"domain": [0,10,20,30,40,50,60,70,80,90,100,110,120,130,140,150,160,170,180,190,200,210,220,230,240,250,260,270,280,290,300,310,320,330,340,350], "paddingInner": 0, "paddingOuter": 0},
          "axis": {"orient": "bottom", "labelAngle": -90, "labelPadding": 4,
            "labelExpr": "isFinite(datum.value) ? pad(datum.label,3,'\u2007') + ' - ' + pad(''+(datum.value+10),3,'\u2007') : ''",
            "title": "eta (°)", "titleFontSize": 12, "titleAngle": -90, "titleAlign": "right", "titleBaseline": "middle", "titleX": -7, "titleY": 16}},
        "y": {"field": "theta", "type": "ordinal",
          "scale": {"domain": [350,340,330,320,310,300,290,280,270,260,250,240,230,220,210,200,190,180,170,160,150,140,130,120,110,100,90,80,70,60,50,40,30,20,10,0], "paddingInner": 0, "paddingOuter": 0},
          "axis": {"orient": "right", "labelPadding": 6, "labelAlign": "left",
            "labelExpr": "isFinite(datum.value) ? pad(datum.label,3,'\u2007') + ' - ' + pad(''+(datum.value+10),3,'\u2007') : ''",
            "title": "theta (°)", "titleFontSize": 10, "titleAngle": 0, "titleAlign": "left", "titleBaseline": "middle", "titleX": 8, "titleY": -7}}
      },
      "layer": [
        {"mark": {"type": "rect"},
         "encoding": {"color": {"field": "n", "type": "quantitative", "scale": {"range": ["#ffff00", "#1f9e3c"]}, "legend": null}}},
        {"mark": {"type": "text", "fontSize": 10, "font": "Liberation Sans", "color": "#222222"},
         "encoding": {"text": {"field": "n", "type": "quantitative"}}}
      ]
    },
    {
      "width": 577, "height": 542,
      "title": {"text": "(B)", "dx": -9, "offset": 12},
      "data": {"name": "B"},
      "encoding": {
        "x": {"field": "eta", "type": "ordinal",
          "scale": {"domain": [0,10,20,30,40,50,60,70,80,90,100,110,120,130,140,150,160,170,180,190,200,210,220,230,240,250,260,270,280,290,300,310,320,330,340,350], "paddingInner": 0, "paddingOuter": 0},
          "axis": {"orient": "bottom", "labelAngle": -90, "labelPadding": 4,
            "labelExpr": "isFinite(datum.value) ? pad(datum.label,3,'\u2007') + ' - ' + pad(''+(datum.value+10),3,'\u2007') : ''",
            "title": "eta (°)", "titleFontSize": 12, "titleAngle": -90, "titleAlign": "right", "titleBaseline": "middle", "titleX": -5, "titleY": 16}},
        "y": {"field": "theta", "type": "ordinal",
          "scale": {"domain": [350,340,330,320,310,300,290,280,270,260,250,240,230,220,210,200,190,180,170,160,150,140,130,120,110,100,90,80,70,60,50,40,30,20,10,0], "paddingInner": 0, "paddingOuter": 0},
          "axis": {"orient": "right", "labelPadding": 4, "labelAlign": "left",
            "labelExpr": "isFinite(datum.value) ? pad(datum.label,3,'\u2007') + ' - ' + pad(''+(datum.value+10),3,'\u2007') : ''",
            "title": "theta (°)", "titleFontSize": 10, "titleAngle": 0, "titleAlign": "left", "titleBaseline": "middle", "titleX": 5, "titleY": -7}}
      },
      "layer": [
        {"mark": {"type": "rect"},
         "encoding": {"color": {"field": "n", "type": "quantitative", "scale": {"range": ["#ffff00", "#1f9e3c"]}, "legend": null}}},
        {"mark": {"type": "text", "fontSize": 8.5, "font": "Liberation Sans", "color": "#222222"},
         "encoding": {"text": {"field": "n", "type": "quantitative"}}}
      ]
    }
  ]
}
